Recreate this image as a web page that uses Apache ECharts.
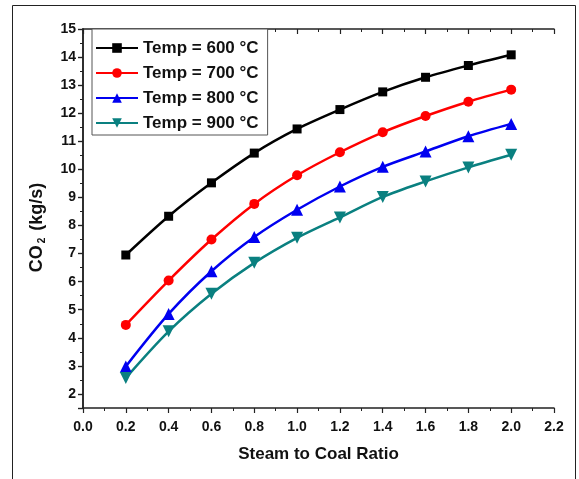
<!DOCTYPE html>
<html>
<head>
<meta charset="utf-8">
<script src="https://cdn.jsdelivr.net/npm/echarts@6/dist/echarts.min.js"></script>
<style>html,body{margin:0;padding:0;background:#fff}#c{width:579px;height:479px}</style>
</head>
<body>
<div id="c"></div>
<script>
const ratios = [0.2, 0.4, 0.6, 0.8, 1.0, 1.2, 1.4, 1.6, 1.8, 2.0];
const temp600 = [6.95, 8.33, 9.52, 10.58, 11.44, 12.13, 12.76, 13.28, 13.70, 14.08];
const temp700 = [4.46, 6.04, 7.50, 8.77, 9.79, 10.61, 11.32, 11.90, 12.41, 12.84];
const temp800 = [2.98, 4.85, 6.37, 7.59, 8.56, 9.39, 10.09, 10.64, 11.18, 11.62];
const temp900 = [2.57, 4.23, 5.57, 6.67, 7.56, 8.29, 9.02, 9.57, 10.07, 10.52];
const seriesNames = ['Temp = 600 °C', 'Temp = 700 °C', 'Temp = 800 °C', 'Temp = 900 °C'];

const FONT = 'Liberation Sans, Arial, sans-serif';
const chart = echarts.init(document.getElementById('c'));
function pairs(ys) { return ratios.map((x, i) => [x, ys[i]]); }
function mk(name, ys, color, symbol, size, rot) {
  return {
    name: name, type: 'line', data: pairs(ys), smooth: 0.3,
    xAxisIndex: 0, yAxisIndex: 0,
    symbol: symbol, symbolSize: size, symbolRotate: rot || 0,
    lineStyle: { color: color, width: 2.5 },
    itemStyle: { color: color },
    emphasis: { disabled: true }
  };
}
const axisLine = { show: true, lineStyle: { color: '#222', width: 1.5 } };
const baseX = { type: 'value', min: 0, max: 2.2, interval: 0.2, splitLine: { show: false }, axisLine: axisLine };
const baseY = { type: 'value', min: 1.5, max: 15, minInterval: 1, maxInterval: 1, splitLine: { show: false }, axisLine: axisLine };
const tick = (inside) => ({ show: true, inside: inside, length: 5, lineStyle: { color: '#222', width: 1.2 } });
const minor = { show: true, splitNumber: 2, length: 3, lineStyle: { color: '#222', width: 1 } };

chart.setOption({
  animation: false,
  backgroundColor: '#fff',
  grid: { left: 83, top: 29, right: 25, bottom: 71 },
  graphic: [{
    type: 'rect', shape: { x: 12.5, y: 5.5, width: 563, height: 500 },
    style: { fill: 'none', stroke: '#222', lineWidth: 1 }, z: -1
  }],
  legend: {
    orient: 'vertical', left: 92, top: 29,
    padding: [10, 9, 3, 3],
    itemWidth: 42, itemHeight: 12, itemGap: 7,
    backgroundColor: '#fff', borderColor: '#555', borderWidth: 1,
    textStyle: { fontFamily: FONT, fontWeight: 'bold', fontSize: 17, color: '#111', lineHeight: 18 },
    data: seriesNames
  },
  xAxis: [
    Object.assign({}, baseX, {
      position: 'bottom',
      name: 'Steam to Coal Ratio', nameLocation: 'middle', nameGap: 38,
      nameTextStyle: { fontFamily: FONT, fontWeight: 'bold', fontSize: 17, color: '#111' },
      axisTick: tick(false), minorTick: minor,
      axisLabel: { margin: 12, fontFamily: FONT, fontWeight: 'bold', fontSize: 14, color: '#111',
        formatter: v => v.toFixed(1) }
    }),
    Object.assign({}, baseX, {
      position: 'top', axisTick: tick(true), minorTick: minor, axisLabel: { show: false }
    })
  ],
  yAxis: [
    Object.assign({}, baseY, {
      position: 'left',
      name: 'CO{sub|2} (kg/s)', nameLocation: 'middle', nameGap: 36, nameRotate: 90,
      nameTextStyle: { fontFamily: FONT, fontWeight: 'bold', fontSize: 18, color: '#111', padding: [0, 18, 0, 0],
        rich: { sub: { fontFamily: FONT, fontWeight: 'bold', fontSize: 10, color: '#111', verticalAlign: 'bottom', padding: [9, 2, 0, 2] } } },
      axisTick: tick(false), minorTick: minor,
      axisLabel: { margin: 7, fontFamily: FONT, fontWeight: 'bold', fontSize: 14, color: '#111',
        showMinLabel: false, formatter: v => (Number.isInteger(v) ? String(v) : '') }
    }),
    Object.assign({}, baseY, {
      position: 'right', axisTick: tick(true), minorTick: minor, axisLabel: { show: false }
    })
  ],
  series: [
    mk(seriesNames[0], temp600, '#000000', 'rect', 9),
    mk(seriesNames[1], temp700, '#ff0000', 'circle', 10),
    mk(seriesNames[2], temp800, '#0000f0', 'triangle', 12),
    mk(seriesNames[3], temp900, '#0a8080', 'triangle', 12, 180)
  ]
});
</script>
</body>
</html>
